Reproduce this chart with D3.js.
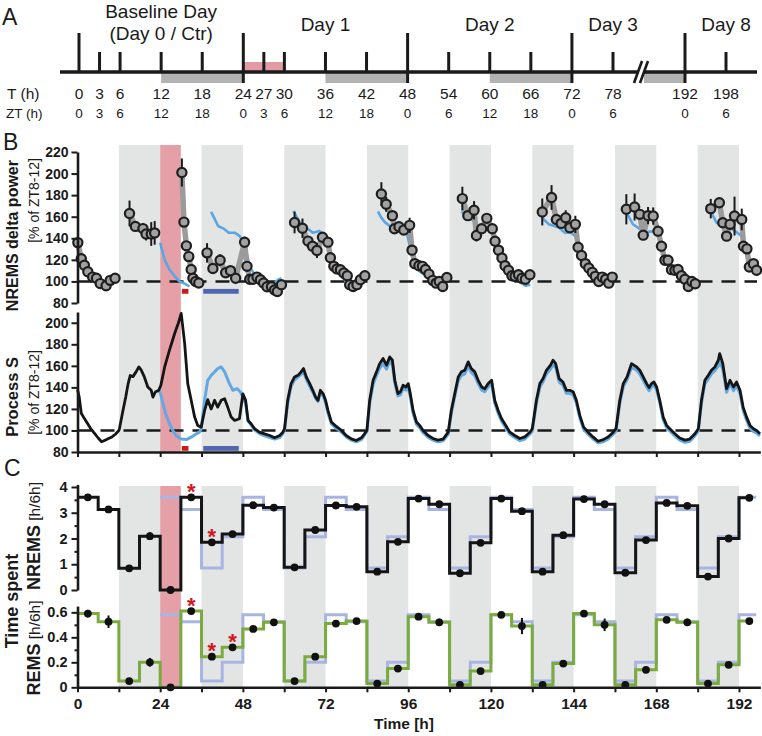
<!DOCTYPE html>
<html>
<head>
<meta charset="utf-8">
<script src="https://cdn.jsdelivr.net/npm/d3@7"></script>
<style>
body { margin: 0; background: #fff; }
svg { display: block; font-family: "Liberation Sans", Arial, sans-serif; }
</style>
</head>
<body>
<div id="chart"></div>
<script>
// ---------- panel A: protocol timeline ----------
var tlTall = [0, 24, 48, 72, 192];
var tlShort = [3, 6, 12, 18, 27, 30, 36, 42, 54, 60, 66, 78, 198];
var tlHours = [0, 3, 6, 12, 18, 24, 27, 30, 36, 42, 48, 54, 60, 66, 72, 78, 192, 198];
var ztHours = [0, 3, 6, 12, 18, 0, 3, 6, 12, 18, 0, 6, 12, 18, 0, 6, 0, 6];
var tlDark = [[12, 24], [36, 48], [60, 72], [186, 192]];
var dayTitles = ["Day 1", "Day 2", "Day 3", "Day 8"];
var dayTitleAt = [36, 60, 78, 198];

// ---------- shared ----------
var darkStarts = [12, 36, 60, 84, 108, 132, 156, 180];
var sdWindow = [24, 30];
var sigRed = [30.3, 32.2];
var sigBlue = [36.5, 46.8];

// ---------- panel B: NREMS delta power, [t, value, sem] ----------
var deltaBaseLight = [[0.1,136,4],[1.1,121,2],[2.0,115,2],[3.0,109,2],[4.4,104,2],[5.5,103,2],[6.6,98,2],[8.3,96,2],[9.5,101,2],[10.9,103,2]];
var deltaBaseDark = [[15.1,163,12],[16.8,151,4],[19.0,149,5],[19.9,144,6],[21.4,144,11],[22.4,145,11]];
var deltaRecovery = [[30.3,201,13],[30.9,155,3],[31.6,133,3],[32.3,123,3],[33.0,111,3],[33.5,103,2],[34.3,100,2],[35.2,98.5,2]];
var deltaDay1 = [[37.6,126.5,9],[39.3,112,3],[41.4,119.6,5.5],[43.0,108,3],[44.4,110,3],[45.9,103,4],
  [48.5,136.4,5],[49.2,114,3],[50.0,102,2],[50.9,102,2],[52.1,104,2],[53.1,101.6,2],[54.0,98.5,2],[55.0,95,2],[56.3,95,2],[57.2,92,2],[58.0,90.7,2],[59.2,97,2]];
var deltaDay2 = [[63.0,154.6,10],[65.3,149.3,9],[66.9,137.4,3],[68.2,132.7,3],[69.5,128.7,7],[71.1,141,4],
  [72.7,136.4,4],[73.4,122,2],[74.4,114,2],[75.3,111.6,2],[76.3,110.9,2],[77.3,107.8,2],[78.3,105.3,2],[79.0,97,2],[80.0,95.3,2],[81.1,97,2],[82.1,101.6,2],[83.4,105.3,2]];
var deltaDay3 = [[88.2,181,11],[89.6,171.5,7],[91.4,161,3],[92.0,148.8,3],[93.3,150.7,3],[94.7,147.6,3],[96.4,152,7],
  [97.1,129,3],[97.9,116.5,2],[99.1,114.6,2],[100.1,114,2],[101.0,111,2],[102.0,106.8,2],[103.1,101,2],[104.1,98.4,2],[105.0,100,2],[106.0,95.3,2],[107.2,103.7,2]];
var deltaDay4 = [[111.7,176.8,11],[113.3,161,3],[115.1,166,8.5],[115.8,142.6,5.5],[117.3,148.8,3],[118.8,158.5,4],[120.4,148.8,3],
  [121.2,137.3,2],[122.2,129,2],[123.2,121.8,2],[124.1,114.6,2],[125.1,110.3,2],[126.1,105.3,2],[127.0,104.7,2],[128.0,106.2,2],[129.0,103,2],[130.0,102,2],[131.3,106.2,2]];
var deltaDay5 = [[134.9,164.4,12.5],[137.6,177.8,11.5],[139.0,157.5,4],[140.4,153.8,4],[141.7,159,7],[142.9,149.8,4],[144.5,152.9,8],
  [145.3,131.7,2],[146.3,124,2],[147.4,116.5,2],[148.4,112.4,2],[149.4,108.4,2],[150.3,104.7,2],[151.3,100,2],[152.3,104,2],[153.3,102,2],[154.2,98.4,2],[155.2,104,2]];
var deltaDay6 = [[159.3,166.9,14],[161.7,169,12.5],[163.2,162.2,4],[164.2,142.9,3],[165.6,161,8],[167.1,160.6,8],
  [168.5,146.6,3],[169.5,132.7,2],[170.5,119.6,2],[171.4,119.6,2],[172.4,110.9,2],[173.4,110.3,2],[174.3,111,2],[175.3,105.3,2],[176.3,102,2],[177.3,95.3,2],[178.3,100,2],[179.3,97.8,2]];
var deltaDay7 = [[183.8,167.5,9],[186.3,173,5],[187.3,154.4,4],[188.4,142,3],[189.4,152.9,3],[190.7,160.6,18],[192.8,157.5,10],
  [193.3,132.7,2],[194.3,130.2,2],[195.0,113.4,2],[196.2,116.5,2],[197.1,110.3,2]];
var deltaSegments = [deltaBaseLight, deltaBaseDark, deltaRecovery, deltaDay1, deltaDay2, deltaDay3, deltaDay4, deltaDay5, deltaDay6, deltaDay7];

// baseline reference (blue), [t, value]
var refDelta1 = [[24.0,136],[25.3,120],[26.7,111],[28.2,105],[29.6,100],[31.1,98],[32.5,95.3]];
var refDelta2 = [[38.8,164.5],[40.8,151.4],[42.4,149],[43.9,145.2],[45.6,145.2],[47.1,142],[48.5,134],[50,114],[51.4,106],[53.3,101.6],[55.3,98.5],[56.7,97],[58.2,101.6],[59.2,103]];
var refDelta3 = [[62.7,165.4],[64.5,154.6],[66.4,150],[68.3,145.2],[70.3,146.7],[71.7,142],[73,129.6],[74.2,117],[75.6,108],[77,103],[79,100],[80.4,97],[82,97]];
var refDelta4 = [[87.2,165],[88.2,159],[89.2,155],[91.6,149],[93.6,148],[95.5,146],[97,125],[98,115.6],[99.4,109],[100.9,106],[102.3,102],[104.3,98],[105.7,96],[106.7,98]];
var refDelta5 = [[111.5,165],[113,159],[114.4,157.5],[116.4,151],[118.3,148],[120.3,147.6],[121.7,132.7],[122.7,125],[124.2,115.6],[125.6,109.3],[127.1,104.7],[128.5,99],[130,96],[131.4,97]];
var refDelta6 = [[134.8,159],[136.8,153],[139.7,150],[141.6,145],[143.1,145.7],[144.5,142],[145.5,132.7],[146.5,123.3],[147.9,115.6],[149.4,109.3],[150.8,106.2],[152.3,100],[153.7,97],[155.2,98.4]];
var refDelta7 = [[159.7,162],[161.2,153],[163.1,149],[165.1,145.7],[167,146.6],[168.5,143.5],[169.5,132.7],[170.4,125],[171.9,114.6],[173.4,109.3],[174.8,104.7],[176.3,101],[177.7,97],[179.2,96],[180.1,97.8]];
var refDelta8 = [[184,163.8],[185.5,154.4],[187.4,150.7],[189.4,149.8],[191.3,145.7],[192.8,142],[193.7,132.7],[194.7,123.3],[195.7,115.6],[196.6,109.3],[197.6,106.2]];
var refDeltaSegments = [refDelta1, refDelta2, refDelta3, refDelta4, refDelta5, refDelta6, refDelta7, refDelta8];

// ---------- panel B: process S ----------
var processS = [[0,138],[0.5,131],[1.1,116],[2,111],[3,106],[4,101],[5,97],[6,93],[7,89.5],[8,91],[9,92.5],[10,94],[11,96.5],[12,100],
  [12.2,102],[13.2,118.6],[14,131],[14.7,143.5],[15.3,151],[16.1,150],[17,154.4],[17.8,159],[18.5,156],[19.4,149.7],[20.4,140.4],[21.4,137.3],[21.9,131],[22.6,135.7],[23.6,137.3],
  [24.2,142],[25.3,159],[26.7,174.5],[28.2,190],[29.3,200],[30.1,208.7],[31.1,180.8],[32,143.5],[33,128],[34,112.4],[34.9,104.7],[35.9,103.1],
  [36.9,118.6],[37.8,128.6],[38.8,120],[39.8,128],[40.7,121.7],[41.7,128],[42.7,129.5],[43.6,121.7],[44.6,112.4],[45.6,109.3],[47,110.9],[48,134],[48.8,128],[49.5,109.3],[50.4,106.2],[51.4,101.6],[52.8,98.4],[54.3,96.9],[55.8,95.3],[57.2,93.2],[58.7,95.3],[59.6,98.4],[60.1,101.6],
  [61,128],[62,143.5],[63,149.7],[64,151.2],[64.9,154.4],[65.6,157.5],[66.4,149.7],[67.4,143.5],[68.3,137.3],[69.1,131],[69.8,128],[70.5,137.3],[71.3,134],[72,128],[72.7,118.6],[73.7,107.8],[75.1,103.7],[76.6,100],[78,95.3],[79.5,92.2],[80.9,90.7],[82.4,93.2],[83.3,96.9],[84,100],
  [84.8,128],[85.8,146.6],[86.8,154.4],[87.7,162],[88.7,166.8],[89.7,160.6],[90.6,168.3],[91.4,165.2],[92.1,146.6],[93,134.2],[93.7,135.7],[94.5,142],[95.3,140.4],[96,143.5],[96.6,134.2],[97.4,118.6],[98.4,107.8],[99.3,104.7],[100.3,100],[101.8,95.3],[103.2,92.5],[104.6,91],[106.1,92],[107.6,98.4],
  [108.5,118.6],[109.5,134.2],[110.5,149.7],[111.4,154.4],[112.4,155.9],[113.4,163.7],[114.3,157.5],[115.3,154.4],[116.3,146.6],[117.3,140.4],[118.2,138.8],[119.2,143.5],[120.2,146.6],[121.1,128],[122.1,118.6],[123.1,110.9],[124,106.2],[125.5,98.4],[126.9,95.3],[128.4,92.5],[129.8,94],[131.3,98.4],[132,101.6],
  [133.2,128],[134.2,143.5],[135.1,148.1],[136.1,155.9],[137.3,160.6],[138,165.2],[138.8,162],[139.8,148.1],[140.9,145],[141.9,137.3],[142.9,137.3],[143.9,135.7],[144.8,128],[145.8,114],[146.9,103.1],[148.2,98.4],[149.7,93.8],[151.1,90],[152.6,91.5],[154,94],[155.5,98.4],[156.3,101.6],
  [157.4,128],[158.4,143.5],[159.5,149.7],[160.8,162.1],[161.5,160.6],[162.3,159],[163.2,155.9],[164.2,149.7],[165.2,143.5],[165.9,139.8],[166.6,143.5],[167.3,145],[168.1,140.4],[169,128],[170,112.4],[171,104.7],[171.9,101.6],[173.4,96.9],[174.8,93],[176.3,91],[177.7,92],[179.2,96.9],[180.2,101.6],
  [181.1,128],[182.1,146.6],[183.1,151.2],[184,155.9],[185,159],[186,165.2],[186.4,171.4],[187.3,162],[188.4,138.8],[189.4,146.6],[190.4,140.4],[191.3,145],[192.3,137.3],[193.2,121.7],[194.2,112.4],[195.2,104.7],[196.2,101.6],[197.1,100],[198.1,97]];
var processSRef = [[23.6,137.3],[24.1,134],[25.6,115.5],[26.7,106.2],[27.7,100],[28.6,95.3],[30.1,92],[31.6,91.5],[33,93.8],[34.5,96.9],[35.4,98.4],[35.9,101.6],
  [36.9,128],[37.8,146.6],[38.8,151.2],[39.8,154.4],[40.7,157.5],[41.7,159],[42.7,154.4],[44.1,143.5],[45.1,137.3],[46.3,138.8],[47.3,135.7],[48,131],[48.8,125],[49.5,109],[50.4,105],[51.4,100.5],[52.8,97],[54.3,95],[55.8,93.5],[57.2,92],[58.7,93.5],[59.6,97],[60.1,100.5],
  [61,125],[62,141],[63,147],[64,149.5],[64.9,152],[65.6,154.5],[66.4,147.5],[67.4,141],[68.3,135.5],[69.1,130],[69.8,127],[70.5,135],[71.3,132],[72,126],[72.7,116],[73.7,106],[75.1,102],[76.6,98.5],[78,94],[79.5,91],[80.9,89.5],[82.4,91.5],[83.3,95.5],[84,99],
  [84.8,125],[85.8,143],[86.8,151],[87.7,158],[88.7,162],[89.7,157],[90.6,164],[91.4,161],[92.1,144],[93,132],[93.7,133],[94.5,139],[95.3,137.5],[96,140],[96.6,131],[97.4,116],[98.4,105.5],[99.3,102.5],[100.3,98],[101.8,93.5],[103.2,91],[104.6,89.5],[106.1,90.5],[107.6,96.5],
  [108.5,116],[109.5,131.5],[110.5,146],[111.4,151],[112.4,152.5],[113.4,159.5],[114.3,154],[115.3,151],[116.3,143.5],[117.3,137.5],[118.2,136],[119.2,140.5],[120.2,143.5],[121.1,125.5],[122.1,116],[123.1,108.5],[124,104],[125.5,96.5],[126.9,93.5],[128.4,90.5],[129.8,92],[131.3,96.5],[132,99.5],
  [133.2,125],[134.2,140.5],[135.1,145],[136.1,152.5],[137.3,157],[138,161],[138.8,158.5],[139.8,145],[140.9,142],[141.9,134.5],[142.9,134.5],[143.9,133],[144.8,125.5],[145.8,111.5],[146.9,101],[148.2,96.5],[149.7,92],[151.1,88.5],[152.6,89.5],[154,92],[155.5,96.5],[156.3,99.5],
  [157.4,125],[158.4,140.5],[159.5,147],[160.8,158.5],[161.5,157.5],[162.3,156],[163.2,152.5],[164.2,146.5],[165.2,140.5],[165.9,137],[166.6,140.5],[167.3,142],[168.1,137.5],[169,125.5],[170,110],[171,102.5],[171.9,99.5],[173.4,95],[174.8,91],[176.3,89],[177.7,90],[179.2,95],[180.2,99.5],
  [181.1,125],[182.1,143.5],[183.1,148],[184,152.5],[185,155.5],[186,160],[186.4,163.5],[187.3,157],[188.4,135.5],[189.4,143],[190.4,137],[191.3,141.5],[192.3,134],[193.2,118.5],[194.2,109.5],[195.2,102],[196.2,99],[197.1,97.5],[198.1,95]];

// ---------- panel C: time spent per 6-h bin (bins start at 0, 6, 12 ...) ----------
var nremBins = [3.6,3.13,0.84,2.09, 0,3.6,1.85,2.17, 3.29,3.2,0.88,2.33, 3.28,3.23,0.71,1.87, 3.55,3.33,0.65,1.83, 3.55,3.06,0.71,2.13, 3.53,3.33,0.67,1.94, 3.38,3.27,0.52,2.0, 3.58];
var nremErr  = [0.04,0.04,0.04,0.15, 0.02,0.04,0.05,0.05, 0.08,0.04,0.04,0.05, 0.06,0.04,0.04,0.04, 0.04,0.04,0.04,0.04, 0.04,0.04,0.04,0.04, 0.04,0.04,0.04,0.04, 0.04,0.04,0.04,0.04, 0.04];
var remBins  = [0.59,0.525,0.05,0.2, 0,0.61,0.245,0.32, 0.467,0.52,0.05,0.245, 0.51,0.53,0.03,0.15, 0.565,0.52,0.02,0.13, 0.58,0.49,0.02,0.19, 0.59,0.5,0.02,0.14, 0.54,0.52,0.03,0.18, 0.53];
var remErr   = [0.03,0.05,0.01,0.035, 0.01,0.02,0.02,0.02, 0.02,0.02,0.01,0.02, 0.02,0.02,0.01,0.02, 0.02,0.03,0.01,0.02, 0.02,0.065,0.01,0.02, 0.02,0.05,0.01,0.02, 0.02,0.03,0.01,0.02, 0.02];
// baseline reference (lavender), bins from 24 h on
var nremRef = [3.6,3.13,0.85,2.07, 3.6,3.13,0.85,2.07, 3.6,3.13,0.85,2.07, 3.6,3.13,0.85,2.07, 3.6,3.13,0.85,2.07, 3.6,3.13,0.85,2.07, 3.6,3.13,0.85,2.07, 3.6];
var remRef  = [0.58,0.525,0.05,0.2, 0.58,0.525,0.05,0.2, 0.58,0.525,0.05,0.2, 0.58,0.525,0.05,0.2, 0.58,0.525,0.05,0.2, 0.58,0.525,0.05,0.2, 0.58,0.525,0.05,0.2, 0.58];
var nremStars = [5, 6];
var remStars = [5, 6, 7];

// ---------- drawing ----------
var svg = d3.select("#chart").append("svg").attr("width", 762).attr("height", 736);
var ink = "#1a1a1a";

// panel A
var a1 = d3.scaleLinear().domain([0, 78]).range([79, 613]);
var a2 = d3.scaleLinear().domain([186, 198]).range([644, 726]);
function ax(t) { return t > 100 ? a2(t) : a1(t); }

var gA = svg.append("g");
gA.selectAll(".dk").data(tlDark).enter().append("rect")
  .attr("x", d => ax(d[0])).attr("y", 72).attr("width", d => ax(d[1]) - ax(d[0])).attr("height", 11).attr("fill", "#b2b2b2");
gA.append("rect").attr("x", ax(sdWindow[0])).attr("y", 62).attr("width", ax(sdWindow[1]) - ax(sdWindow[0])).attr("height", 10).attr("fill", "#e29ba3");
gA.append("line").attr("x1", 60).attr("x2", 757).attr("y1", 72).attr("y2", 72).attr("stroke", ink).attr("stroke-width", 3.5);
gA.selectAll(".tt").data(tlTall).enter().append("line")
  .attr("x1", ax).attr("x2", ax).attr("y1", 33).attr("y2", d => d === 0 ? 72 : 83).attr("stroke", ink).attr("stroke-width", 3);
gA.selectAll(".ts").data(tlShort).enter().append("line")
  .attr("x1", ax).attr("x2", ax).attr("y1", 52).attr("y2", 72).attr("stroke", ink).attr("stroke-width", 3);
// axis break
gA.append("line").attr("x1", 637).attr("y1", 84).attr("x2", 645).attr("y2", 60).attr("stroke", "#fff").attr("stroke-width", 6);
gA.append("line").attr("x1", 634).attr("y1", 83).attr("x2", 642).attr("y2", 61).attr("stroke", ink).attr("stroke-width", 2.6);
gA.append("line").attr("x1", 640).attr("y1", 83).attr("x2", 648).attr("y2", 61).attr("stroke", ink).attr("stroke-width", 2.6);

gA.selectAll(".tl").data(tlHours).enter().append("text")
  .attr("x", ax).attr("y", 99).attr("text-anchor", "middle").attr("font-size", 15.5).attr("fill", ink).text(d => d);
gA.selectAll(".zl").data(tlHours).enter().append("text")
  .attr("x", ax).attr("y", 118).attr("text-anchor", "middle").attr("font-size", 13.5).attr("fill", ink).text((d, i) => ztHours[i]);
gA.append("text").attr("x", 7).attr("y", 99).attr("font-size", 15.5).attr("fill", ink).text("T (h)");
gA.append("text").attr("x", 6).attr("y", 118).attr("font-size", 13.5).attr("fill", ink).text("ZT (h)");
gA.append("text").attr("x", ax(12)).attr("y", 18).attr("text-anchor", "middle").attr("font-size", 19).attr("fill", ink).text("Baseline Day");
gA.append("text").attr("x", ax(12)).attr("y", 39.5).attr("text-anchor", "middle").attr("font-size", 19).attr("fill", ink).text("(Day 0 / Ctr)");
gA.selectAll(".dt").data(dayTitles).enter().append("text")
  .attr("x", (d, i) => ax(dayTitleAt[i])).attr("y", 30.5).attr("text-anchor", "middle").attr("font-size", 19).attr("fill", ink).text(d => d);

// panel letters
[["A", 2, 25], ["B", 3, 150], ["C", 4, 476]].forEach(function (p) {
  svg.append("text").attr("x", p[1]).attr("y", p[2]).attr("font-size", 23).attr("fill", ink).text(p[0]);
});

// time scale for B and C
var x = d3.scaleLinear().domain([0, 198.2]).range([77.5, 77.5 + 198.2 * 3.4453]);

function bands(g, y0, y1) {
  g.selectAll(".band").data(darkStarts).enter().append("rect")
    .attr("x", d => x(d)).attr("width", d => x(d + 12) - x(d)).attr("y", y0).attr("height", y1 - y0).attr("fill", "#e3e4e4");
  g.append("rect").attr("x", x(sdWindow[0])).attr("width", x(sdWindow[1]) - x(sdWindow[0]))
    .attr("y", y0).attr("height", y1 - y0).attr("fill", "#e5a0a7");
}
function styleAxis(g, fs) {
  g.select(".domain").attr("stroke", ink).attr("stroke-width", 2.6);
  g.selectAll(".tick line").attr("stroke", ink).attr("stroke-width", 2);
  g.selectAll(".tick text").attr("font-size", fs).attr("font-weight", "bold").attr("fill", ink)
    .attr("font-family", '"Liberation Sans", Arial, sans-serif');
}
function vlabel(g, tx, ty, anchor, parts) {
  var t = g.append("text").attr("transform", "translate(" + tx + "," + ty + ") rotate(-90)")
    .attr("text-anchor", anchor).attr("fill", ink);
  parts.forEach(function (p) {
    t.append("tspan").attr("font-size", p[1]).attr("font-weight", p[2] ? "bold" : "normal").text(p[0]);
  });
}

// panel B
var gB = svg.append("g");
bands(gB, 145, 452);
var yB1 = d3.scaleLinear().domain([80, 220]).range([303, 152]);
var yB2 = d3.scaleLinear().domain([80, 210]).range([452, 312]);

// dashed 100 lines
[yB1, yB2].forEach(function (yy) {
  gB.append("line").attr("x1", x(0)).attr("x2", 757).attr("y1", yy(100)).attr("y2", yy(100))
    .attr("stroke", ink).attr("stroke-width", 2.6).attr("stroke-dasharray", "14,9");
});

// significance bars
[[yB1(100) + 7.5], [446]].forEach(function (r) {
  gB.append("rect").attr("x", x(sigRed[0])).attr("width", x(sigRed[1]) - x(sigRed[0])).attr("y", r[0]).attr("height", 4.8).attr("fill", "#d01818");
  gB.append("rect").attr("x", x(sigBlue[0])).attr("width", x(sigBlue[1]) - x(sigBlue[0])).attr("y", r[0]).attr("height", 4.8).attr("fill", "#5066b0");
});

var lineB1 = d3.line().x(d => x(d[0])).y(d => yB1(d[1]));
gB.selectAll(".ref").data(refDeltaSegments).enter().append("path")
  .attr("d", lineB1).attr("fill", "none").attr("stroke", "#5aa6e4").attr("stroke-width", 2.6).attr("stroke-linejoin", "round");
gB.selectAll(".seg").data(deltaSegments).enter().append("path")
  .attr("d", lineB1).attr("fill", "none").attr("stroke", "#9b9b9b").attr("stroke-width", 5.5).attr("stroke-linejoin", "round");
var allDelta = [].concat.apply([], deltaSegments);
gB.selectAll(".eb").data(allDelta).enter().append("line")
  .attr("x1", d => x(d[0])).attr("x2", d => x(d[0])).attr("y1", d => yB1(d[1] - d[2])).attr("y2", d => yB1(d[1] + d[2]))
  .attr("stroke", ink).attr("stroke-width", 2);
gB.selectAll(".pt").data(allDelta).enter().append("circle")
  .attr("cx", d => x(d[0])).attr("cy", d => yB1(d[1])).attr("r", 4.6)
  .attr("fill", "#a2a2a2").attr("stroke", "#1e1e1e").attr("stroke-width", 2.2);

var lineB2 = d3.line().x(d => x(d[0])).y(d => yB2(d[1]));
gB.append("path").datum(processSRef).attr("d", lineB2).attr("fill", "none").attr("stroke", "#62a9e3").attr("stroke-width", 3).attr("stroke-linejoin", "round");
gB.append("path").datum(processS).attr("d", lineB2).attr("fill", "none").attr("stroke", "#151515").attr("stroke-width", 2.8).attr("stroke-linejoin", "round");

var axB1 = gB.append("g").attr("transform", "translate(" + x(0) + ",0)")
  .call(d3.axisLeft(yB1).tickValues(d3.range(80, 221, 20)).tickSize(6).tickSizeOuter(0).tickPadding(3).tickFormat(d3.format("d")));
styleAxis(axB1, 14);
var axB2 = gB.append("g").attr("transform", "translate(" + x(0) + ",0)")
  .call(d3.axisLeft(yB2).tickValues(d3.range(80, 201, 20)).tickSize(6).tickSizeOuter(0).tickPadding(3).tickFormat(d3.format("d")));
styleAxis(axB2, 14);
var axBx = gB.append("g").attr("transform", "translate(0,452)")
  .call(d3.axisBottom(x).tickValues(d3.range(0, 193, 12)).tickSize(5).tickSizeOuter(0).tickFormat(""));
styleAxis(axBx, 14);

vlabel(gB, 18, 160, "end", [["NREMS delta power", 16, true]]);
vlabel(gB, 39, 158, "end", [["[% of ZT8-12]", 14, false]]);
vlabel(gB, 18, 357, "end", [["Process S", 16.5, true]]);
vlabel(gB, 39, 350, "end", [["[% of ZT8-12]", 14, false]]);

// panel C
var gC = svg.append("g");
bands(gC, 486, 687);
var yC1 = d3.scaleLinear().domain([0, 4.1]).range([590, 484.4]);
var yC2 = d3.scaleLinear().domain([0, 0.65]).range([687.3, 606.1]);

function stepPts(t0, vals, tEnd) {
  var p = vals.map((v, i) => [t0 + i * 6, v]);
  p.push([tEnd, vals[vals.length - 1]]);
  return p;
}
var stepC1 = d3.line().curve(d3.curveStepAfter).x(d => x(d[0])).y(d => yC1(d[1]));
var stepC2 = d3.line().curve(d3.curveStepAfter).x(d => x(d[0])).y(d => yC2(d[1]));

gC.append("path").attr("d", stepC1(stepPts(24, nremRef, 197))).attr("fill", "none").attr("stroke", "#a8b5e4").attr("stroke-width", 3);
gC.append("path").attr("d", stepC2(stepPts(24, remRef, 197))).attr("fill", "none").attr("stroke", "#a8b5e4").attr("stroke-width", 3);
gC.append("path").attr("d", stepC1(stepPts(0, nremBins, 195.5))).attr("fill", "none").attr("stroke", "#151515").attr("stroke-width", 3);
gC.append("path").attr("d", stepC2(stepPts(0, remBins, 195.5))).attr("fill", "none").attr("stroke", "#7aab3d").attr("stroke-width", 3);

function dots(yy, vals, errs) {
  gC.selectAll(null).data(vals).enter().append("line")
    .attr("x1", (d, i) => x(i * 6 + 3)).attr("x2", (d, i) => x(i * 6 + 3))
    .attr("y1", (d, i) => yy(Math.max(0, d - errs[i]))).attr("y2", (d, i) => yy(d + errs[i]))
    .attr("stroke", "#111").attr("stroke-width", 2);
  gC.selectAll(null).data(vals).enter().append("circle")
    .attr("cx", (d, i) => x(i * 6 + 3)).attr("cy", d => yy(d)).attr("r", 3.9).attr("fill", "#111");
}
dots(yC1, nremBins, nremErr);
dots(yC2, remBins, remErr);

function stars(yy, idx, vals) {
  gC.selectAll(null).data(idx).enter().append("text")
    .attr("x", i => x(i * 6 + 3)).attr("y", i => yy(vals[i]) - 11 + 12.5)
    .attr("text-anchor", "middle").attr("font-size", 22).attr("font-weight", "bold").attr("fill", "#d3161c").text("*");
}
stars(yC1, nremStars, nremBins);
stars(yC2, remStars, remBins);

var axC1 = gC.append("g").attr("transform", "translate(" + x(0) + ",0)")
  .call(d3.axisLeft(yC1).tickValues([0, 1, 2, 3, 4]).tickSize(6).tickSizeOuter(0).tickPadding(4).tickFormat(d3.format("d")));
styleAxis(axC1, 14.5);
var axC1m = gC.append("g").attr("transform", "translate(" + x(0) + ",0)")
  .call(d3.axisLeft(yC1).tickValues([0.5, 1.5, 2.5, 3.5]).tickSize(3).tickFormat(""));
axC1m.select(".domain").remove();
styleAxis(axC1m, 14.5);
var axC2 = gC.append("g").attr("transform", "translate(" + x(0) + ",0)")
  .call(d3.axisLeft(yC2).tickValues([0, 0.2, 0.4, 0.6]).tickSize(6).tickSizeOuter(0).tickPadding(4).tickFormat(d => d === 0 ? "0" : d3.format(".1f")(d)));
styleAxis(axC2, 14.5);
var axC2m = gC.append("g").attr("transform", "translate(" + x(0) + ",0)")
  .call(d3.axisLeft(yC2).tickValues([0.1, 0.3, 0.5]).tickSize(3).tickFormat(""));
axC2m.select(".domain").remove();
styleAxis(axC2m, 14.5);
var axCx = gC.append("g").attr("transform", "translate(0," + yC2(0) + ")")
  .call(d3.axisBottom(x).tickValues(d3.range(0, 193, 12)).tickSize(5).tickSizeOuter(0).tickPadding(6)
    .tickFormat(d => d % 24 === 0 ? d : ""));
styleAxis(axCx, 15.5);

gC.append("text").attr("x", 404).attr("y", 729).attr("text-anchor", "middle").attr("font-size", 15.5).attr("font-weight", "bold").attr("fill", ink).text("Time [h]");
vlabel(gC, 18, 601, "middle", [["Time spent", 18, true]]);
vlabel(gC, 40, 536, "middle", [["NREMS", 18, true], [" [h/6h]", 15.5, false]]);
vlabel(gC, 40, 648, "middle", [["REMS", 18, true], [" [h/6h]", 15.5, false]]);
</script>
</body>
</html>
